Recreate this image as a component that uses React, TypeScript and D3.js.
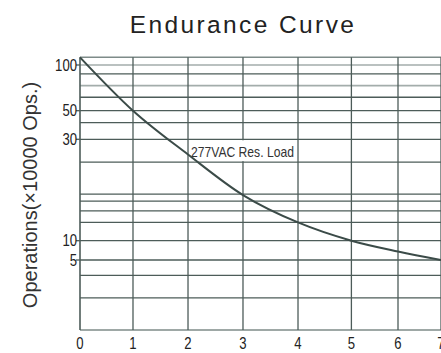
import React from "react";
import * as d3 from "d3";

// ---- data ----
const xTicks = [0, 1, 2, 3, 4, 5, 6, 7];
const curveX = [0, 1, 2, 3, 4, 5, 6, 7];
const curveY = [120, 50, 27, 19, 13.6, 10, 7.2, 5];
const yTickValues = [100, 50, 30, 10, 5];
const gridDark = [90.2, 64.7, 50, 41.6, 30, 25.5, 19.2, 17.8, 15.9, 13.6, 10, 5, 3.9, 2.3];
const gridLight = [100, 77.4];
const curveLabel = "277VAC Res. Load";
const labelBox = { x0: 2, x1: 4, y0: 30, y1: 25.5 };

const W = 441;
const H = 353;
const left = 80;
const top = 57.3;
const bottom = 330;
const right = 441;

// the datasheet axes are not uniform: piecewise-linear scales
const xFrac = [0, 0.1468, 0.2992, 0.4515, 0.6039, 0.7518, 0.8809, 1];
const yDomain = [120, 100, 50, 30, 10, 5, 0];
const yFrac = [0, 0.0282, 0.1958, 0.3007, 0.6725, 0.7433, 1];

const x = d3
  .scaleLinear()
  .domain(xTicks)
  .range(xFrac.map((f) => left + f * (right - left)));
const y = d3
  .scaleLinear()
  .domain(yDomain)
  .range(yFrac.map((f) => top + f * (bottom - top)));

const DARK = "#4d5c59";
const LIGHT = "#a3adab";
const SANS = "'Liberation Sans', Arial, Helvetica, sans-serif";
const NARROW_SCALE = 0.82;

export default function App() {
  const line = d3
    .line<number>()
    .x((_, i) => x(curveX[i]))
    .y((d) => y(d))
    .curve(d3.curveMonotoneX);
  const path = line(curveY) || "";

  return (
    <svg
      width={W}
      height={H}
      style={{ position: "absolute", left: 0, top: 0, background: "#fff" }}
    >
      <text
        x={243}
        y={33}
        textAnchor="middle"
        fontFamily={SANS}
        fontSize={24.5}
        letterSpacing={2.4}
        fill="#222"
      >
        Endurance Curve
      </text>
      <text
        transform={`translate(37,195) rotate(-90)`}
        textAnchor="middle"
        fontFamily={SANS}
        fontSize={20}
        fill="#333"
      >
        Operations(×10000 Ops.)
      </text>

      {/* horizontal grid */}
      {gridLight.map((v) => (
        <line key={"l" + v} x1={left} x2={right} y1={y(v)} y2={y(v)} stroke={LIGHT} strokeWidth={1.6} />
      ))}
      {gridDark.map((v) => (
        <line key={"d" + v} x1={left} x2={right} y1={y(v)} y2={y(v)} stroke={DARK} strokeWidth={1.3} />
      ))}
      {/* top & bottom borders */}
      <line x1={left} x2={right} y1={y(120)} y2={y(120)} stroke="#7e8b89" strokeWidth={1.6} />
      <line x1={left} x2={right} y1={y(0)} y2={y(0)} stroke="#7e8b89" strokeWidth={1.6} />

      {/* vertical grid */}
      {xTicks.slice(1).map((t) => (
        <line key={"v" + t} x1={x(t)} x2={x(t)} y1={y(120)} y2={y(0)} stroke={DARK} strokeWidth={1.3} />
      ))}
      <line x1={left} x2={left} y1={y(120)} y2={y(0)} stroke={DARK} strokeWidth={1.6} />

      {/* y ticks */}
      {yTickValues.map((v) => (
        <g key={"yt" + v}>
          <line x1={left - 4} x2={left} y1={y(v)} y2={y(v)} stroke={DARK} strokeWidth={1.3} />
          <text
            transform={`translate(${left - 3},${y(v)}) scale(${NARROW_SCALE},1)`}
            dy="0.36em"
            textAnchor="end"
            fontFamily={SANS}
            fontSize={16}
            fill="#222"
          >
            {v}
          </text>
        </g>
      ))}

      {/* x ticks */}
      {xTicks.map((t) => (
        <text
          key={"xt" + t}
          transform={`translate(${x(t)},349) scale(${NARROW_SCALE},1)`}
          textAnchor="middle"
          fontFamily={SANS}
          fontSize={16}
          fill="#222"
        >
          {t}
        </text>
      ))}

      {/* label box */}
      <rect
        x={x(labelBox.x0) + 1}
        y={y(labelBox.y0) + 1}
        width={x(labelBox.x1) - x(labelBox.x0) - 2}
        height={y(labelBox.y1) - y(labelBox.y0) - 2}
        fill="#fff"
      />
      <text
        transform={`translate(${x(labelBox.x0) + 3},156.5) scale(${NARROW_SCALE},1)`}
        fontFamily={SANS}
        fontSize={14.8}
        fill="#333"
      >
        {curveLabel}
      </text>

      <path d={path} fill="none" stroke="#3b4b48" strokeWidth={2} />
    </svg>
  );
}
